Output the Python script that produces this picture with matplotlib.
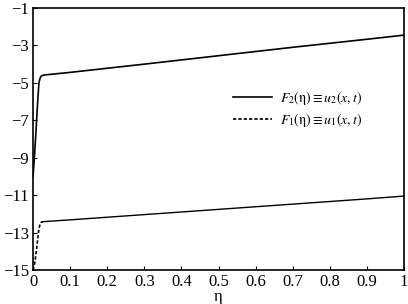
import matplotlib
matplotlib.use('Agg')
import matplotlib.pyplot as plt

plt.rcParams['font.family'] = ['Liberation Serif', 'DejaVu Serif']
plt.rcParams['mathtext.fontset'] = 'stix'

# F2 (upper curve)
eta_2 = [0.0, 0.004, 0.008, 0.012, 0.016, 0.019, 0.022, 0.026, 0.035, 0.1, 0.3, 0.5, 0.7, 0.9, 1.0]
f2 = [-10.0, -8.9, -7.6, -6.2, -5.0, -4.75, -4.65, -4.6, -4.57, -4.44, -4.0, -3.55, -3.1, -2.67, -2.45]

# F1 (lower curve): steep start drawn dashed, the rest solid
eta_1_steep = [0.0, 0.004, 0.007, 0.010, 0.013, 0.016, 0.019, 0.022, 0.026]
f1_steep = [-15.0, -14.7, -14.3, -13.8, -13.3, -12.8, -12.55, -12.45, -12.42]
eta_1_rest = [0.026, 0.1, 0.3, 0.5, 0.7, 0.9, 1.0]
f1_rest = [-12.42, -12.32, -12.04, -11.76, -11.48, -11.2, -11.05]

xticks = [0, 0.1, 0.2, 0.3, 0.4, 0.5, 0.6, 0.7, 0.8, 0.9, 1]
xtick_labels = ['0', '0.1', '0.2', '0.3', '0.4', '0.5', '0.6', '0.7', '0.8', '0.9', '1']
yticks = [-1, -3, -5, -7, -9, -11, -13, -15]

fig = plt.figure(figsize=(4.08, 3.04), dpi=100)
ax = fig.add_axes([33 / 408, 1 - 270 / 304, 371 / 408, 262 / 304])

ax.plot(eta_2, f2, color='black', lw=1.2, label=r'$F_2(\mathrm{η})\equiv u_2(x,t)$')
ax.plot(eta_1_steep, f1_steep, color='black', lw=1.2, ls=(0, (2, 1.2)),
        label=r'$F_1(\mathrm{η})\equiv u_1(x,t)$')
ax.plot(eta_1_rest, f1_rest, color='black', lw=1.0)

ax.set_xlim(0, 1)
ax.set_ylim(-15, -1)
ax.set_xticks(xticks)
ax.set_xticklabels(xtick_labels)
ax.set_yticks(yticks)
ax.set_yticklabels(['\u2212' + str(abs(v)) for v in yticks])
ax.tick_params(direction='in', length=3, labelsize=12, pad=3)
ax.set_xlabel('η', fontsize=12, labelpad=-1)

for s in ax.spines.values():
    s.set_linewidth(1.2)

ax.legend(loc='upper left', bbox_to_anchor=(0.539, 0.69), frameon=False, fontsize=10,
          borderpad=0, borderaxespad=0, handlelength=2.8, handletextpad=0.6,
          labelspacing=0.25)

fig.savefig('out.png', dpi=100)
